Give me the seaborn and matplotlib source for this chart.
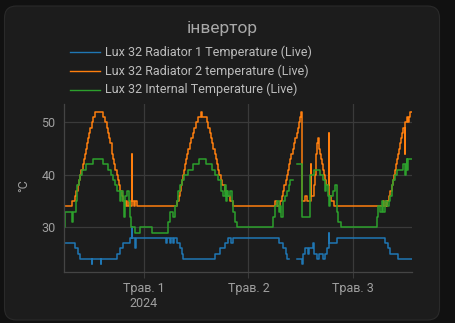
import numpy as np
import pandas as pd
import matplotlib
matplotlib.use("Agg")
import matplotlib.pyplot as plt
import seaborn as sns
from matplotlib.patches import FancyBboxPatch
from matplotlib.lines import Line2D

nan = np.nan

title = "інвертор"
series_names = [
    "Lux 32 Radiator 1 Temperature (Live)",
    "Lux 32 Radiator 2 temperature (Live)",
    "Lux 32 Internal Temperature (Live)",
]
colors = ["#1f77b4", "#ff7f0e", "#2ca02c"]

# hours relative to 1 May 2024 00:00, value changes (step series)
r1_t = [-18.37, -15.85, -15.1, -14.7, -12.05, -11.95, -9.95, -9.85, -6.3, -5.5, -4.75, -3.2,
        -2.85, -2.75, -2.1, -1.9, 5.0, 5.2, 5.97, 6.2, 6.73, 6.96, 7.5, 8.27, 8.65, 9.03,
        16.3, 17.45, 18.6, 19.36, 20.0, 20.35, 31.07, 31.85, 32.62, 32.9, 33.4, 33.41,
        35.07, 36.2, 36.6, 36.95, 37.7, 37.9, 38.9, 39.15, 39.7, 40.27, 41.2, 41.57, 41.96,
        42.4, 42.56, 44.39, 55.35, 56.1, 56.5, 58.4, 61.5]
r1_v = [27, 26, 25, 24, 23, 24, 23, 24, 25, 26, 27, 28,
        30, 28, 26, 28, 27, 28, 27, 28, 27, 28, 27, 26, 25, 24,
        25, 26, 27, 28, 27, 28, 27, 26, 25, 24, 24, nan,
        24, 23, 25, 26, 25, 26, 27, 25, 24, 25, 24, 25, 26,
        29, 27, 28, 27, 26, 25, 24, 24]

r2_t = [-18.37, -16.5, -15.9, -15.5, -15.2, -14.95, -14.7, -14.4, -14.1, -13.85, -13.6, -13.35,
        -13.1, -12.85, -12.6, -12.3, -12.0, -11.7, -11.2, -9.4, -9.0, -8.6, -8.3, -8.0, -7.7,
        -7.45, -7.25, -7.05, -6.8, -6.55, -6.3, -6.0, -5.7, -5.4, -5.1, -4.75, -4.4, -4.1,
        -3.8, -3.5, -3.2, -2.85, -2.75, -2.4, -2.1, -1.6,
        7.6, 7.95, 8.2, 8.45, 8.65, 8.9, 9.15, 9.4, 9.65, 9.95, 10.2, 10.5, 10.8, 11.15, 11.55,
        11.95, 12.4, 13.0, 13.4, 14.5, 14.8, 15.1, 15.35, 15.65, 15.95, 16.2, 16.45, 16.7,
        17.0, 17.3, 17.6, 18.0, 18.5, 19.1, 19.7, 20.4,
        30.1, 30.5, 31.2, 31.6, 31.9, 32.2, 32.5, 32.75, 33.0, 33.3, 33.6, 33.85, 34.15, 34.45,
        34.75, 35.05, 35.35, 35.6, 35.8, 35.95, 36.22, 37.0, 37.5, 38.3, 38.45, 39.1, 39.3,
        39.45, 39.6, 39.75, 39.85, 40.1, 40.3, 40.5, 40.7, 40.85, 41.05, 41.3, 41.55, 41.85,
        42.45, 42.6, 42.9, 43.6,
        54.9, 55.2, 55.5, 55.7, 55.9, 56.3, 56.6, 56.9, 57.2, 57.45, 57.7, 57.95, 58.2, 58.4,
        58.6, 58.8, 59.0, 59.2, 59.45, 59.85, 60.05, 60.4, 60.6, 60.85, 61.15, 61.5]
r2_v = [34, 35, 36, 37, 38, 39, 40, 41, 42, 43, 44, 45,
        46, 47, 48, 49, 50, 51, 52, 51, 50, 49, 48, 47, 46,
        45, 44, 43, 42, 41, 40, 39, 38, 37, 36, 35, 34, 35,
        34, 35, 34, 44, 35, 34, 35, 34,
        35, 36, 37, 38, 39, 40, 41, 42, 43, 44, 45, 46, 47, 48, 49,
        50, 51, 52, 51, 50, 49, 48, 47, 46, 45, 44, 43, 42,
        41, 40, 39, 38, 37, 36, 35, 34,
        35, 34, 35, 36, 37, 38, 39, 40, 41, 42, 43, 44, 45, 46,
        47, 48, 49, 50, 51, 52, 35, 36, 35, 42, 36, 38, 40,
        42, 44, 46, 47, 46, 45, 44, 43, 42, 41, 40, 39, 38,
        48, 36, 35, 34,
        35, 34, 35, 34, 35, 36, 37, 38, 39, 40, 41, 42, 43, 44,
        45, 46, 47, 48, 49, 44, 50, 51, 50, 51, 52, 52]

int_t = [-18.37, -18.1, -16.6, -16.2, -15.6, -15.3, -15.0, -14.7, -14.25, -13.3, -11.7, -9.3,
         -8.3, -7.6, -7.1, -6.7, -6.2, -5.5, -5.2, -4.9, -4.6, -4.3, -3.9, -3.5, -3.2, -2.9,
         -2.1, -1.0, 1.8, 5.6, 5.95, 6.73, 7.1, 7.5, 7.9, 8.3, 8.65, 9.2, 10.2, 11.3, 12.7,
         14.24, 15.55, 16.3, 16.9, 17.8, 18.2, 18.5, 18.8, 19.1, 19.4, 19.75, 20.1, 20.5, 20.9,
         21.3, 29.7, 30.1, 30.5, 30.9, 31.2, 31.5, 31.9, 32.4, 32.8, 33.2, 33.5, 34.3, 34.31,
         35.07, 36.2, 38.15, 39.0, 40.4, 41.2, 41.6, 41.9, 42.2, 42.4, 42.8, 43.3, 43.9, 44.3,
         44.6, 45.2, 53.44, 53.8, 54.2, 54.6, 55.0, 55.4, 55.8, 56.2, 56.5, 56.9, 57.3, 57.6,
         58.0, 59.55, 59.9, 60.1, 60.3, 60.5, 60.7, 61.5]
int_v = [30, 33, 31, 33, 35, 38, 39, 40, 41, 42, 43, 42,
         41, 40, 39, 38, 37, 35, 37, 35, 32, 36, 37, 35, 32, 30,
         29, 30, 29, 31, 33, 32, 34, 35, 37, 38, 39, 40, 41, 42, 43,
         42, 41, 40, 39, 37, 36, 38, 35, 37, 36, 37, 35, 33, 31,
         30, 32, 34, 35, 33, 34, 32, 35, 36, 37, 38, 39, 39, nan,
         42, 32, 40, 41, 40, 39, 37, 38, 36, 34, 36, 37, 38, 33,
         31, 30, 32, 34, 33, 35, 33, 35, 34, 35, 36, 38, 39, 40,
         41, 42, 40, 42, 43, 41, 43, 43]

tick_hours = [0, 24, 48]
tick_labels = ["Трав. 1\n2024", "Трав. 2", "Трав. 3"]
y_ticks = [30, 40, 50]
x_range = (-18.37, 61.55)
y_range = (21.5, 53.5)

frames = []
for name, t, v in zip(series_names, [r1_t, r2_t, int_t], [r1_v, r2_v, int_v]):
    df = pd.DataFrame({"hours": t, "temp": v})
    df["seg"] = df["temp"].isna().cumsum()
    df = df.dropna().copy()
    df["series"] = name
    df["unit"] = name + "_" + df["seg"].astype(str)
    frames.append(df)
data = pd.concat(frames, ignore_index=True)

W, H = 455, 323
plt.rcParams["font.family"] = ["Roboto", "DejaVu Sans"]
fig = plt.figure(figsize=(W / 100, H / 100), dpi=100, facecolor="#111111")

card = FancyBboxPatch((0.045, 0.03), 4.35, 3.14,
                      boxstyle="round,pad=0,rounding_size=0.12",
                      transform=fig.dpi_scale_trans, facecolor="#1c1c1c",
                      edgecolor="#2a2a2a", linewidth=0.8, zorder=-10)
fig.patches.append(card)

ax = fig.add_axes([64 / W, (H - 272) / H, 348 / W, 168 / H])
ax.set_facecolor("none")
ax.set_zorder(5)

sns.lineplot(data=data, x="hours", y="temp", hue="series", units="unit",
             estimator=None, hue_order=series_names, palette=colors,
             drawstyle="steps-post", linewidth=1.1, legend=False, ax=ax)

ax.set_xlim(*x_range)
ax.set_ylim(*y_range)
ax.set_xticks(tick_hours)
ax.set_xticklabels(tick_labels, linespacing=1.25)
ax.set_yticks(y_ticks)
ax.set_xlabel("")
ax.set_ylabel("")
ax.grid(True, color="#3a3a3a", linewidth=0.9)
ax.set_axisbelow(True)
for s in ["top", "right"]:
    ax.spines[s].set_visible(False)
for s in ["left", "bottom"]:
    ax.spines[s].set_color("#444444")
    ax.spines[s].set_linewidth(0.9)
ax.tick_params(axis="x", length=4, color="#3a3a3a", pad=3, labelcolor="#a0a0a0", labelsize=9)
ax.tick_params(axis="y", length=0, pad=6, labelcolor="#a0a0a0", labelsize=9)

fig.text(24 / W, 1 - 186 / H, "°C", rotation=90, ha="center", va="center",
         color="#a0a0a0", fontsize=9)
fig.text(222 / W, 1 - 28 / H, title, ha="center", va="center", color="#a8a8a8", fontsize=12.5)

rows = [52.3, 71.0, 89.7]
for name, c, yy in zip(series_names, colors, rows):
    fy = 1 - yy / H
    fig.add_artist(Line2D([70 / W, 100 / W], [fy, fy], color=c, linewidth=1.0,
                          transform=fig.transFigure))
    fig.text(105 / W, fy, name, ha="left", va="center", color="#bdbdbd", fontsize=9)

fig.savefig("out.png", dpi=100, facecolor=fig.get_facecolor())
